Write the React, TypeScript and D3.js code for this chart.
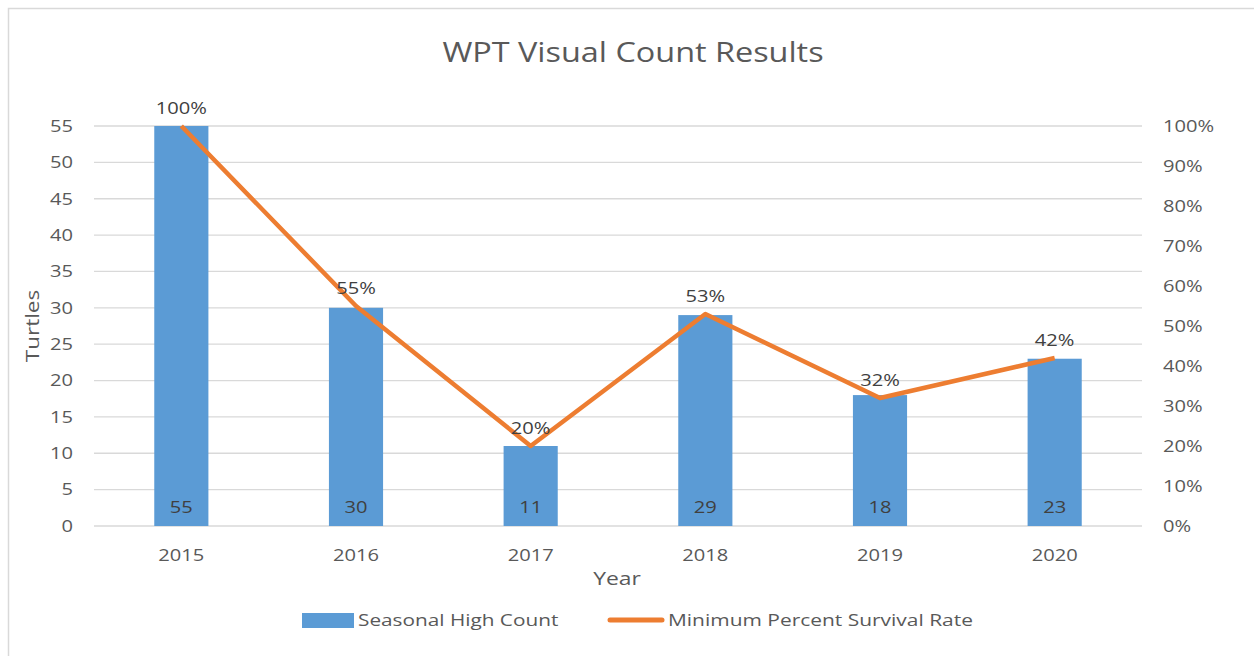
import * as d3 from 'd3';

const years = ['2015', '2016', '2017', '2018', '2019', '2020'];
const highCounts = [55, 30, 11, 29, 18, 23];
const survivalRates = [1.0, 0.55, 0.2, 0.53, 0.32, 0.42];
const countTicks = [0, 5, 10, 15, 20, 25, 30, 35, 40, 45, 50, 55];
const rateTicks = [0, 0.1, 0.2, 0.3, 0.4, 0.5, 0.6, 0.7, 0.8, 0.9, 1.0];

const W = 1254;
const H = 656;
const left = 94;
const right = 1142;
const top = 126;
const bottom = 526;

const FONT = '"Open Sans", Lato, sans-serif';
const TEXT = '#595959';
const BAR = '#5B9BD5';
const LINE = '#ED7D31';
const FS = 16.5;
const SX = 1.22; // the source text is a bit stretched horizontally

type TProps = {
  x: number;
  y: number;
  anchor?: 'start' | 'middle' | 'end';
  size?: number;
  fill?: string;
  sx?: number;
  rotate?: number;
  children: React.ReactNode;
};

// text helper: stretches glyphs horizontally around its anchor point
const T = ({ x, y, anchor = 'middle', size = FS, fill = TEXT, sx = SX, rotate = 0, children }: TProps) => (
  <text
    transform={`translate(${x},${y}) rotate(${rotate}) scale(${sx},1)`}
    dy="0.35em"
    textAnchor={anchor}
    fontSize={size}
    fill={fill}
  >
    {children}
  </text>
);

export default function App() {
  const x = d3.scaleBand<string>().domain(years).range([left, right]).paddingInner(0.69).paddingOuter(0.345);
  const yCount = d3.scaleLinear().domain([0, 55]).range([bottom, top]);
  const yRate = d3.scaleLinear().domain([0, 1]).range([bottom, top]);
  const cx = (yr: string) => (x(yr) ?? 0) + x.bandwidth() / 2;

  const line = d3
    .line<number>()
    .x((_, i) => cx(years[i]))
    .y((d) => yRate(d));

  const pct = d3.format('.0%');

  return (
    <svg
      width={W}
      height={H}
      style={{ position: 'fixed', left: 0, top: 0, background: '#fff' }}
      fontFamily={FONT}
    >
      <rect x={8.5} y={8.5} width={1260} height={700} fill="#fff" stroke="#d9d9d9" strokeWidth={1.5} />

      <T x={633} y={53} size={27} sx={1.2}>
        WPT Visual Count Results
      </T>

      {/* gridlines */}
      {countTicks.map((t) => (
        <line key={t} x1={left} x2={right} y1={yCount(t)} y2={yCount(t)} stroke="#d9d9d9" strokeWidth={1.3} />
      ))}

      {/* left axis labels */}
      {countTicks.map((t) => (
        <T key={t} x={73} y={yCount(t)} anchor="end">
          {t}
        </T>
      ))}

      {/* right axis labels */}
      {rateTicks.map((t) => (
        <T key={t} x={1163} y={yRate(t)} anchor="start">
          {pct(t)}
        </T>
      ))}

      {/* bars */}
      {highCounts.map((v, i) => (
        <rect
          key={years[i]}
          x={x(years[i])}
          y={yCount(v)}
          width={x.bandwidth()}
          height={bottom - yCount(v)}
          fill={BAR}
        />
      ))}

      {/* bar value labels */}
      {highCounts.map((v, i) => (
        <T key={years[i]} x={cx(years[i])} y={bottom - 19} fill="#404040">
          {v}
        </T>
      ))}

      {/* survival line */}
      <path d={line(survivalRates) ?? ''} fill="none" stroke={LINE} strokeWidth={4.5} strokeLinejoin="round" />

      {survivalRates.map((r, i) => (
        <T key={years[i]} x={cx(years[i])} y={yRate(r) - 18} fill="#404040">
          {pct(r)}
        </T>
      ))}

      {/* x labels */}
      {years.map((yr) => (
        <T key={yr} x={cx(yr)} y={555}>
          {yr}
        </T>
      ))}

      {/* axis titles */}
      <T x={617} y={579} size={18} sx={1.27}>
        Year
      </T>
      <T x={33} y={326} size={18} sx={1.25} rotate={-90}>
        Turtles
      </T>

      {/* legend */}
      <rect x={302} y={613} width={52} height={15} fill={BAR} />
      <T x={358} y={620} anchor="start" sx={1.26}>
        Seasonal High Count
      </T>
      <line x1={610} x2={662} y1={620} y2={620} stroke={LINE} strokeWidth={5} strokeLinecap="round" />
      <T x={668} y={620} anchor="start" sx={1.27}>
        Minimum Percent Survival Rate
      </T>
    </svg>
  );
}
